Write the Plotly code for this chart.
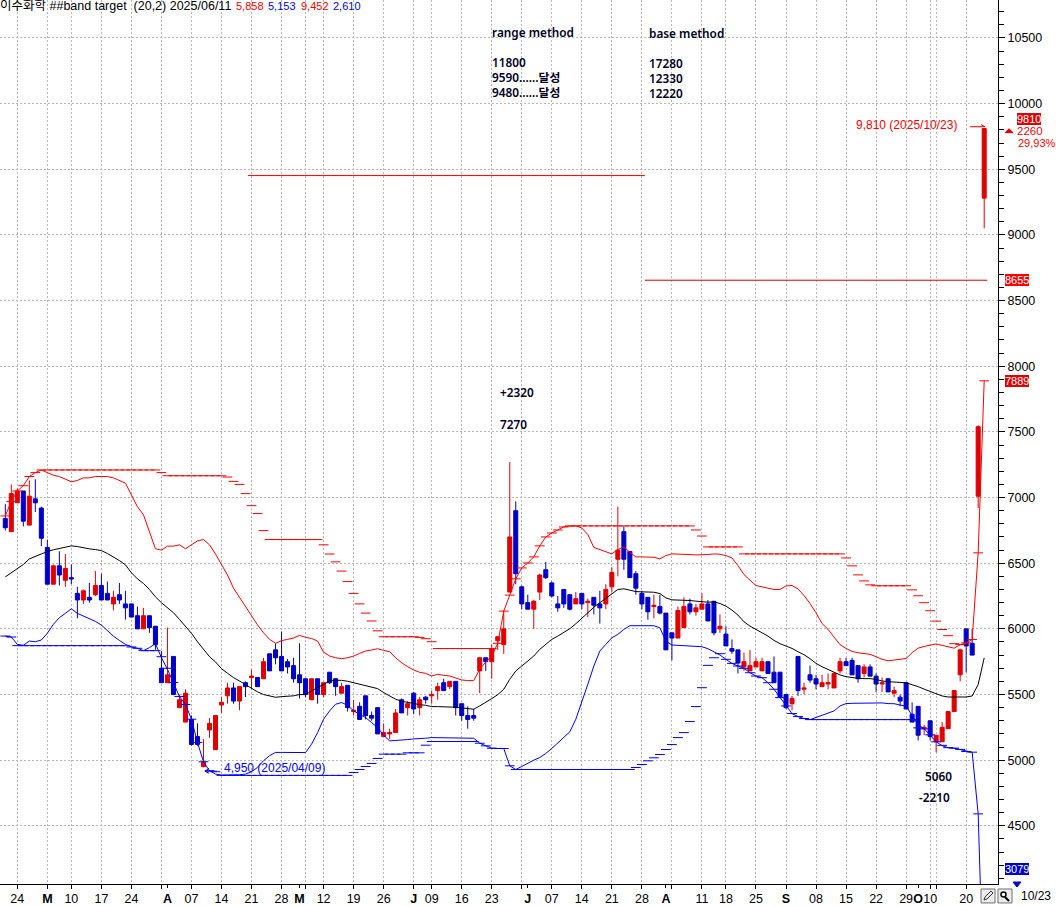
import plotly.graph_objects as go

idx = list(range(164))
open_ = [6840,6740,6960,7050,6790,6990,6920,6620,6340,6480,
6370,6390,6270,6220,6240,6260,6330,6270,6190,6260,
6190,6190,6100,6000,6100,6020,5700,5590,5790,5400,
5290,5310,5180,4950,5230,5080,5420,5490,5550,5450,
5590,5630,5630,5620,5810,5840,5790,5750,5720,5650,
5620,5460,5620,5500,5670,5620,5510,5570,5370,5410,
5490,5340,5400,5180,5200,5210,5460,5400,5510,5400,
5480,5490,5530,5590,5560,5600,5430,5340,5340,5680,
5780,5750,5910,5880,6280,6900,6320,6200,6150,6280,
6450,6350,6190,6300,6260,6190,6270,6200,6240,6190,
6190,6320,6530,6740,6590,6420,6270,6240,6170,6170,
6120,5970,5930,6010,6190,6130,6150,6190,6210,6000,
5960,5850,5840,5710,5680,5710,5680,5750,5670,5670,
5500,5430,5790,5540,5650,5620,5560,5580,5550,5680,
5750,5760,5720,5660,5710,5640,5580,5620,5510,5480,
5590,5350,5410,5240,5300,5140,5140,5240,5370,5650,
6000,5890,7010,9280]
high = [6950,7100,7070,7050,7130,7140,6930,6680,6490,6590,
6570,6490,6320,6300,6350,6440,6420,6360,6290,6350,
6290,6190,6170,6160,6100,6020,5830,6010,5790,5500,
5540,5340,5280,5160,5320,5340,5480,5590,5590,5560,
5600,5690,5630,5780,5810,5890,5980,5770,5780,5890,
5620,5620,5620,5590,5670,5620,5590,5570,5460,5440,
5490,5370,5400,5280,5240,5390,5470,5450,5520,5480,
5490,5530,5590,5620,5600,5600,5430,5410,5390,5780,
5780,5880,5940,6140,7270,6970,6330,6260,6220,6420,
6510,6360,6250,6300,6260,6280,6270,6230,6240,6290,
6340,6470,6930,6780,6590,6440,6290,6240,6260,6260,
6120,5970,6170,6240,6230,6190,6270,6220,6210,6110,
6020,5920,5840,5820,5840,5780,5780,5750,5790,5670,
5500,5490,5790,5590,5720,5650,5650,5660,5670,5780,
5780,5780,5720,5730,5730,5660,5630,5620,5560,5500,
5590,5440,5410,5270,5300,5190,5290,5370,5530,5850,
6000,6000,7550,9810]
low = [6750,6740,6960,6780,6790,6890,6630,6340,6340,6330,
6320,6340,6080,6190,6200,6250,6220,6220,6140,6190,
6070,6090,6000,6000,5970,5840,5590,5590,5500,5400,
5290,5110,5110,4950,5170,5080,5360,5430,5430,5380,
5480,5540,5560,5620,5680,5730,5680,5660,5590,5470,
5480,5460,5430,5480,5580,5490,5510,5370,5340,5310,
5310,5300,5200,5180,5160,5210,5360,5340,5350,5340,
5430,5430,5460,5530,5540,5340,5300,5240,5300,5510,
5680,5620,5840,5810,6280,6340,6150,6150,6000,6220,
6380,6240,6130,6160,6140,6190,6150,6090,6110,6040,
6150,6280,6400,6450,6390,6260,6150,6070,6080,6110,
5840,5760,5930,6010,6110,6100,6150,6060,5950,5970,
5870,5810,5660,5680,5680,5710,5680,5660,5590,5480,
5390,5380,5490,5500,5590,5540,5560,5540,5550,5660,
5720,5650,5590,5630,5640,5520,5520,5520,5480,5410,
5390,5290,5150,5190,5150,5060,5140,5240,5370,5600,
5670,5800,6920,9050]
close = [6770,7030,7050,6820,7010,6960,6690,6340,6480,6410,
6460,6380,6220,6290,6220,6330,6220,6220,6240,6220,
6160,6090,6000,6100,6010,5880,5590,5650,5500,5460,
5510,5120,5120,4985,5280,5340,5440,5550,5450,5560,
5560,5640,5560,5750,5680,5780,5680,5710,5620,5590,
5500,5620,5500,5590,5590,5560,5560,5400,5380,5310,
5340,5320,5200,5210,5210,5360,5360,5430,5390,5460,
5460,5500,5560,5530,5600,5400,5340,5310,5320,5780,
5750,5850,5940,6000,6700,6420,6190,6150,6210,6410,
6390,6250,6160,6190,6150,6230,6190,6210,6180,6160,
6300,6430,6600,6530,6390,6310,6190,6130,6180,6120,
5840,5930,6140,6170,6130,6160,6190,6060,5970,6020,
5870,5830,5740,5750,5720,5750,5750,5660,5590,5480,
5400,5470,5530,5550,5610,5580,5590,5590,5660,5750,
5720,5650,5620,5710,5640,5580,5590,5520,5530,5450,
5390,5290,5190,5250,5180,5190,5250,5370,5530,5840,
5870,5800,7540,9810]
upper = [6860,6970,7050,7090,7160,7190,7210,7190,7170,7160,
7140,7120,7130,7150,7150,7160,7160,7160,7150,7130,
7110,7020,6930,6870,6740,6610,6600,6630,6630,6640,
6610,6640,6670,6680,6640,6570,6490,6410,6310,6240,
6160,6100,6030,5970,5920,5890,5910,5920,5930,5950,
5935,5927,5907,5823,5793,5780,5773,5780,5793,5813,
5831,5839,5849,5836,5826,5780,5742,5712,5687,5669,
5661,5641,5654,5646,5641,5626,5611,5606,5606,5692,
5747,5793,5889,6135,6257,6381,6464,6502,6548,6632,
6700,6730,6753,6776,6784,6784,6768,6718,6620,6604,
6586,6571,6604,6624,6583,6548,6548,6548,6545,6533,
6558,6571,6571,6571,6566,6563,6563,6566,6571,6568,
6558,6540,6482,6414,6371,6330,6320,6312,6300,6300,
6327,6330,6305,6254,6193,6122,6041,5996,5940,5879,
5851,5828,5818,5813,5806,5788,5768,5757,5761,5766,
5774,5819,5853,5866,5874,5885,5874,5864,5853,5879,
5893,5919,6579,7889]
middle = [6396,6427,6457,6490,6533,6553,6571,6589,6602,6612,
6624,6632,6627,6617,6609,6604,6596,6574,6548,6520,
6488,6427,6381,6346,6300,6244,6199,6161,6123,6072,
6021,5966,5902,5844,5788,5748,5697,5662,5629,5603,
5576,5548,5520,5500,5490,5479,5484,5487,5490,5500,
5499,5527,5552,5578,5603,5608,5608,5601,5590,5583,
5570,5560,5545,5515,5489,5464,5449,5439,5431,5423,
5418,5408,5408,5408,5408,5403,5398,5393,5388,5413,
5439,5469,5499,5540,5616,5679,5717,5755,5793,5844,
5882,5920,5945,5975,6001,6039,6084,6122,6165,6198,
6236,6267,6300,6305,6295,6284,6282,6282,6279,6269,
6236,6221,6221,6219,6216,6211,6208,6203,6206,6193,
6173,6143,6105,6054,6021,5996,5975,5945,5912,5887,
5869,5851,5826,5803,5773,5737,5712,5692,5666,5649,
5636,5628,5623,5621,5621,5615,5603,5598,5597,5592,
5589,5576,5560,5541,5523,5507,5489,5481,5481,5481,
5481,5489,5576,5779]
lower = [5945,5938,5882,5875,5907,5902,5915,5966,6034,6085,
6118,6153,6118,6097,6077,6057,6029,5983,5945,5912,
5882,5862,5852,5834,5857,5887,5781,5692,5591,5485,
5424,5312,5135,4988,4920,4894,4887,4887,4887,4889,
4894,4912,4945,4996,5034,5059,5059,5059,5054,5059,
5058,5122,5210,5312,5375,5426,5439,5418,5375,5350,
5324,5286,5248,5190,5147,5150,5152,5157,5162,5162,
5167,5172,5172,5172,5172,5172,5170,5167,5167,5129,
5109,5091,5089,5089,4957,4929,4952,4977,5000,5020,
5051,5089,5134,5178,5216,5312,5439,5578,5717,5831,
5882,5932,5958,5996,6024,6024,6024,6024,6024,6008,
5907,5877,5872,5872,5869,5866,5864,5849,5824,5801,
5768,5737,5717,5699,5666,5641,5628,5590,5540,5476,
5413,5355,5332,5317,5309,5324,5340,5355,5375,5413,
5431,5433,5433,5438,5438,5438,5436,5431,5430,5420,
5412,5340,5270,5240,5190,5140,5110,5095,5090,5080,
5065,5060,4590,3079]
upper_target = [6860,6970,7050,7090,7160,7190,7210,7210,7210,7210,
7210,7210,7210,7210,7210,7210,7210,7210,7210,7210,
7210,7210,7210,7210,7210,7210,7190,7166,7166,7166,
7166,7166,7166,7166,7166,7166,7166,7156,7123,7100,
7030,6938,6878,6748,6680,6680,6680,6680,6680,6680,
6680,6680,6680,6640,6570,6510,6440,6360,6270,6190,
6120,6060,5985,5940,5940,5940,5940,5940,5940,5935,
5925,5902,5850,5850,5850,5850,5850,5850,5850,5850,
5850,5850,5890,6135,6257,6381,6464,6502,6548,6632,
6700,6730,6753,6776,6784,6784,6784,6784,6784,6784,
6784,6784,6784,6784,6784,6784,6784,6784,6784,6784,
6784,6784,6784,6784,6784,6753,6707,6624,6624,6624,
6624,6624,6624,6571,6571,6571,6571,6571,6571,6571,
6571,6571,6571,6571,6571,6571,6571,6571,6571,6571,
6540,6480,6411,6365,6335,6328,6328,6328,6328,6328,
6328,6297,6252,6199,6138,6059,5995,5948,5887,5880,
5893,5919,6579,7889]
lower_target = [5945,5938,5872,5872,5872,5872,5872,5872,5872,5872,
5872,5872,5872,5872,5872,5872,5872,5872,5872,5872,
5872,5862,5852,5834,5834,5834,5788,5700,5591,5485,
5424,5312,5135,4988,4920,4912,4884,4884,4884,4884,
4884,4884,4884,4884,4884,4884,4884,4884,4884,4884,
4884,4884,4884,4884,4884,4884,4884,4884,4906,4929,
4952,4975,5013,5046,5046,5046,5046,5056,5056,5056,
5114,5142,5142,5142,5142,5142,5142,5142,5142,5129,
5109,5091,5089,5089,4957,4929,4929,4929,4929,4929,
4929,4929,4929,4929,4929,4929,4929,4929,4929,4929,
4929,4929,4929,4929,4929,4944,4967,4995,5018,5043,
5081,5119,5172,5210,5294,5408,5552,5722,5780,5811,
5768,5737,5717,5699,5666,5641,5628,5590,5540,5476,
5413,5355,5332,5317,5309,5309,5309,5309,5309,5309,
5309,5309,5309,5309,5309,5309,5309,5309,5309,5309,
5309,5309,5246,5238,5193,5140,5113,5095,5092,5082,
5066,5061,4591,3079]

target_high = 9452
target_high_span = [40.4, 106.5]
target_mid = 8655
target_mid_span = [106.5, 163.5]

grid_pos = [2,7,11,16,21,26,31,36,41,46,50,53,58,63,68,71,76,81,86,91,96,101,106,111,116,120,125,130,135,140,145,150,154,155,160]
label_pos = [2,7,11,16,21,27,31,36,41,46,49,53,58,63,68,71,76,81,87,91,96,101,106,110,116,120,125,130,135,140,145,150,152,154,160]
label_txt = ["24","<b>M</b>","10","17","24","<b>A</b>","07","14","21","28","<b>M</b>","12","19","26","<b>J</b>","09","16","23","<b>J</b>","07","14","21","28","<b>A</b>","11","18","25","<b>S</b>","08","15","22","29","<b>O</b>","10","20"]

W, H, PW, PH = 1056, 906, 998, 886
FONT = "Liberation Sans Narrow, Liberation Sans, Noto Sans CJK KR"
NOTE = "Noto Sans, Noto Sans CJK KR"
RED, BLUE = "#ff0000", "#0000ff"
CRED, CBLUE = "#e00000", "#0000c8"
GRID = "#b8b8b8"

def px(x): return x / PW
def py(y): return 1 - y / PH

fig = go.Figure()
fig.add_trace(go.Candlestick(
    x=idx, open=open_, high=high, low=low, close=close, whiskerwidth=0,
    increasing=dict(fillcolor=CRED, line=dict(color=CRED, width=1)),
    decreasing=dict(fillcolor=CBLUE, line=dict(color=CBLUE, width=1)),
    showlegend=False, hoverinfo="skip"))
for s, c in ((upper, RED), (middle, "#000000"), (lower, BLUE)):
    fig.add_trace(go.Scatter(x=idx, y=s, mode="lines", line=dict(color=c, width=1),
                             showlegend=False, hoverinfo="skip"))
for s, c in ((upper_target, RED), (lower_target, BLUE)):
    fig.add_trace(go.Scatter(x=idx, y=s, mode="markers", cliponaxis=True,
                             marker=dict(symbol="line-ew", size=7, color=c, line=dict(color=c, width=1)),
                             showlegend=False, hoverinfo="skip"))
fig.add_trace(go.Scatter(x=target_high_span, y=[target_high, target_high], mode="lines",
                         line=dict(color=RED, width=1), showlegend=False, hoverinfo="skip"))
fig.add_trace(go.Scatter(x=target_mid_span, y=[target_mid, target_mid], mode="lines",
                         line=dict(color="#d80000", width=1), showlegend=False, hoverinfo="skip"))
fig.add_trace(go.Scatter(x=[0], y=[5000], xaxis="x2", mode="markers", marker=dict(opacity=0),
                         showlegend=False, hoverinfo="skip"))

ann = []
def text(x, y, t, color="black", size=12, family=FONT, anchor="left", bg=None, weight=None):
    f = dict(color=color, size=size, family=family)
    if weight: f["weight"] = weight
    d = dict(x=px(x), y=py(y), xref="paper", yref="paper", text=t, showarrow=False,
             xanchor=anchor, yanchor="middle", font=f, borderpad=0, borderwidth=0, align="left")
    if bg: d["bgcolor"] = bg
    ann.append(d)

text(0, 6, "이수화학 ##band target  (20,2) 2025/06/11", size=12.5)
text(236, 6, "5,858", RED, 11)
text(268, 6, "5,153", BLUE, 11)
text(301, 6, "9,452", RED, 11)
text(333, 6, "2,610", BLUE, 11)

for x, y, t in [(492, 32, "range method"), (492, 62, "11800"), (492, 77, "9590......달성"), (492, 92, "9480......달성"),
                (649, 33, "base method"), (649, 63, "17280"), (649, 78, "12330"), (649, 93, "12220"),
                (500, 393, "+2320"), (500, 425, "7270"), (925, 778, "5060"), (919, 799, "-2210")]:
    text(x, y, t, "#000020", 11.8, NOTE, weight=600)

text(224, 770, "4,950 (2025/04/09)", BLUE)
text(856, 125, "9,810 (2025/10/23)", RED)
text(1017, 119, "9810", "white", 11, bg=CRED)
text(1017, 131, "2260", RED, 11.5)
text(1018, 143, "29,93%", RED, 11)
text(1005, 281, "8655", "white", 11, bg=RED)
text(1005, 382, "7889", "white", 11, bg=CRED)
text(1005, 871, "3079", "white", 11, bg="#0000d0")
text(1021, 898, "10/23", "black", 12)

def rect(x0, y0, x1, y1, **kw):
    return dict(type="rect", xref="paper", yref="paper", x0=px(x0), y0=py(y0), x1=px(x1), y1=py(y1), **kw)
def poly(points, **kw):
    path = "M" + " L".join(f"{px(x):.5f},{py(y):.5f}" for x, y in points)
    return dict(type="path", xref="paper", yref="paper", path=path, **kw)

shapes = [
    rect(981, 891, 995, 905, fillcolor="#ececec", line=dict(color="#707070", width=1)),
    rect(998, 891, 1012, 905, fillcolor="#ececec", line=dict(color="#707070", width=1)),
    poly([(984, 902), (985, 899), (991, 893), (993, 895), (987, 901), (984, 902)], line=dict(color="#303030", width=1)),
    poly([(1005, 899), (1009, 903)], line=dict(color="#000000", width=2)),
    dict(type="circle", xref="paper", yref="paper", x0=px(1001), y0=py(899), x1=px(1006), y1=py(894),
         line=dict(color="#000000", width=1.5), fillcolor="#ffffff"),
    poly([(1005, 133), (1013, 133), (1009, 129), (1005, 133)], fillcolor=CRED, line=dict(color=CRED, width=1)),
    poly([(1013, 884), (1021, 884), (1017, 889), (1013, 884)], fillcolor="#0000d0", line=dict(color="#0000d0", width=1)),
    poly([(970, 127), (985, 127)], line=dict(color=RED, width=1)),
    poly([(981, 125), (985, 127)], line=dict(color=RED, width=1)),
    poly([(217, 773), (205, 773)], line=dict(color=BLUE, width=1)),
    poly([(209, 770), (205, 773), (209, 775)], line=dict(color=BLUE, width=1)),
]

xrange_ = [-0.882, 165.3]
fig.update_layout(
    width=W, height=H, autosize=False, margin=dict(l=0, r=W - PW, t=0, b=16, pad=0),
    paper_bgcolor="white", plot_bgcolor="white", boxgap=0.33, boxgroupgap=0, showlegend=False,
    font=dict(family=FONT, size=12.5, color="black"), annotations=ann, shapes=shapes,
    xaxis=dict(type="linear", range=xrange_, rangeslider=dict(visible=False), tickmode="array", tickvals=grid_pos,
               showticklabels=False, ticks="outside", ticklen=4, tickcolor="black", showgrid=True, gridcolor=GRID,
               griddash="2px,2px", gridwidth=1, showline=True, linecolor="black", linewidth=1, zeroline=False),
    xaxis2=dict(type="linear", range=xrange_, overlaying="x", anchor="y", side="bottom", tickmode="array",
                tickvals=label_pos, ticktext=label_txt, ticks="outside", ticklen=3, tickcolor="black", showgrid=False,
                showline=False, zeroline=False, tickfont=dict(family=FONT, size=12.5), tickangle=0),
    yaxis=dict(range=[4057, 10789], side="right", tickmode="linear", tick0=5000, dtick=500, ticks="outside",
               ticklen=6, tickcolor="black", showgrid=True, gridcolor=GRID, griddash="2px,2px", gridwidth=1,
               showline=True, linecolor="black", linewidth=1, zeroline=False, tickformat="d",
               tickfont=dict(family=FONT, size=12.5),
               minor=dict(dtick=100, ticks="outside", ticklen=5, tickcolor="black", showgrid=False)),
)
fig.write_html("out.html", config=dict(displayModeBar=False),
               post_script="document.body.style.margin='0';document.body.style.overflow='hidden';")
